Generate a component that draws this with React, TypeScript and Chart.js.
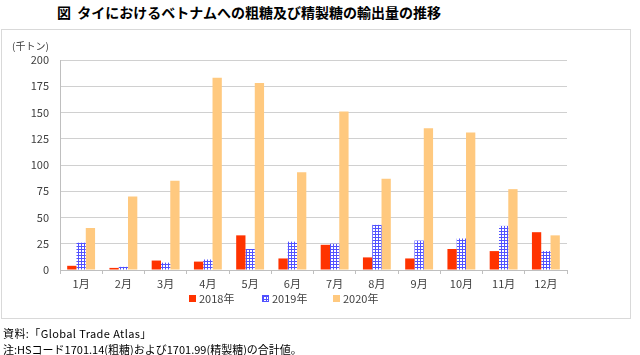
import React, { useEffect, useRef } from 'react';
import { Chart, registerables } from 'chart.js';

Chart.register(...registerables);

const months = ['1月', '2月', '3月', '4月', '5月', '6月', '7月', '8月', '9月', '10月', '11月', '12月'];
const seriesLabels = ['2018年', '2019年', '2020年'];
const values2018 = [4, 2, 9, 8, 33, 11, 24, 12, 11, 20, 18, 36];
const values2019 = [26, 3, 7, 10, 20, 27, 25, 43, 28, 30, 42, 18];
const values2020 = [40, 70, 85, 183, 178, 93, 151, 87, 135, 131, 77, 33];
const yMax = 200;
const yStep = 25;

const titleText = '図  タイにおけるベトナムへの粗糖及び精製糖の輸出量の推移';
const unitText = '(千トン)';
const sourceText = '資料:「Global Trade Atlas」';
const noteText = '注:HSコード1701.14(粗糖)および1701.99(精製糖)の合計値。';

const RED = '#ff3300';
const BLUE = '#5252ff';
const ORANGE = '#ffc97f';
const FONT = '"Noto Sans CJK JP", "Noto Sans", sans-serif';

function makePattern(): CanvasPattern | string {
  const c = document.createElement('canvas');
  c.width = 3;
  c.height = 3;
  const ctx = c.getContext('2d');
  if (!ctx) return BLUE;
  ctx.fillStyle = '#ffffff';
  ctx.fillRect(0, 0, 3, 3);
  ctx.fillStyle = BLUE;
  ctx.fillRect(0, 0, 3, 1);
  ctx.fillRect(0, 0, 1, 3);
  const p = ctx.createPattern(c, 'repeat');
  return p || BLUE;
}

export default function App() {
  const ref = useRef<HTMLCanvasElement | null>(null);

  useEffect(() => {
    if (!ref.current) return;
    const pattern = makePattern();
    const chart = new Chart(ref.current, {
      type: 'bar',
      data: {
        labels: months,
        datasets: [
          { label: seriesLabels[0], data: values2018, backgroundColor: RED, categoryPercentage: 0.66, barPercentage: 1.0 },
          { label: seriesLabels[1], data: values2019, backgroundColor: pattern as any, categoryPercentage: 0.66, barPercentage: 1.0 },
          { label: seriesLabels[2], data: values2020, backgroundColor: ORANGE, categoryPercentage: 0.66, barPercentage: 1.0 },
        ],
      },
      options: {
        responsive: false,
        animation: false,
        layout: { padding: { left: 0, right: 73, top: 60, bottom: 65 } },
        plugins: {
          legend: { display: false },
          tooltip: { enabled: false },
          title: { display: false },
        },
        scales: {
          x: {
            afterFit: (s: any) => { s.height = 20; },
            grid: { display: true, drawOnChartArea: false, drawTicks: true, tickLength: 4, color: '#bfbfbf', offset: true },
            border: { display: true, color: '#bfbfbf' },
            ticks: { color: '#404040', font: { family: FONT, size: 11 }, padding: 3, maxRotation: 0 },
          },
          y: {
            min: 0,
            max: yMax,
            afterFit: (s: any) => { s.width = 60; },
            grid: { color: '#d0d0d0', drawTicks: false },
            border: { display: true, color: '#bfbfbf' },
            ticks: { stepSize: yStep, color: '#404040', font: { family: FONT, size: 11 }, padding: 11 },
          },
        },
      },
    });
    return () => chart.destroy();
  }, []);

  const legendItem = (left: number, label: string, swatch: React.CSSProperties) => (
    <div style={{ position: 'absolute', left, top: 291, height: 14, display: 'flex', alignItems: 'center', font: `11px ${FONT}`, color: '#404040' }}>
      <span style={{ display: 'inline-block', width: 7, height: 7, marginRight: 3, ...swatch }} />
      <span>{label}</span>
    </div>
  );

  return (
    <div style={{ position: 'absolute', left: 0, top: 0, width: 640, height: 355, background: '#fff', overflow: 'hidden' }}>
      <div style={{ position: 'absolute', left: 57, top: 3, font: `bold 14px ${FONT}`, color: '#000', whiteSpace: 'pre', lineHeight: '18px' }}>{titleText}</div>
      <div style={{ position: 'absolute', left: 1, top: 29, width: 628, height: 288, border: '1px solid #d9d9d9' }} />
      <canvas ref={ref} width={640} height={355} style={{ position: 'absolute', left: 0, top: 0 }} />
      <div style={{ position: 'absolute', left: 12, top: 38, font: `10px ${FONT}`, color: '#404040', whiteSpace: 'nowrap' }}>{unitText}</div>
      {legendItem(189, seriesLabels[0], { background: RED })}
      {legendItem(262, seriesLabels[1], { backgroundColor: '#fff', backgroundImage: `linear-gradient(${BLUE} 1px, transparent 1px), linear-gradient(90deg, ${BLUE} 1px, transparent 1px)`, backgroundSize: '3px 3px', border: `1px solid ${BLUE}`, boxSizing: 'border-box' })}
      {legendItem(333, seriesLabels[2], { background: ORANGE })}
      <div style={{ position: 'absolute', left: 3, top: 325, font: `11px ${FONT}`, color: '#000', whiteSpace: 'nowrap', lineHeight: '16px' }}>
        <div style={{ letterSpacing: '0.4px' }}>{sourceText}</div>
        <div>{noteText}</div>
      </div>
    </div>
  );
}
